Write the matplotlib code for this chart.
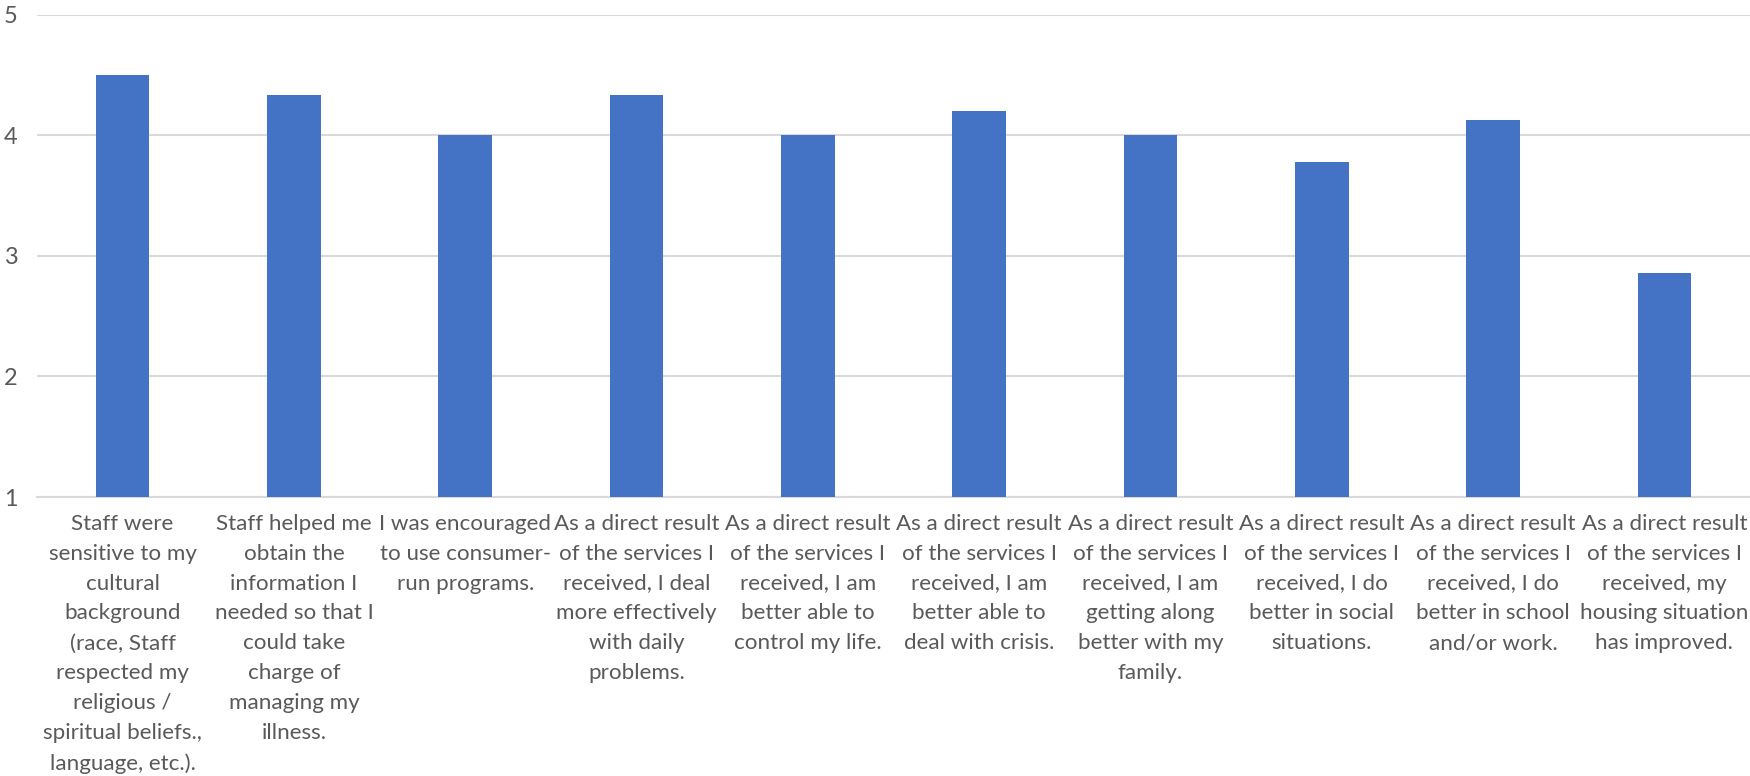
import numpy as np
import matplotlib
matplotlib.use("Agg")
import matplotlib.pyplot as plt

# survey items (wrapped the same way as the original chart)
labels = [
    "Staff were\nsensitive to my\ncultural\nbackground\n(race, Staff\nrespected my\nreligious /\nspiritual beliefs.,\nlanguage, etc.).",
    "Staff helped me\nobtain the\ninformation I\nneeded so that I\ncould take\ncharge of\nmanaging my\nillness.",
    "I was encouraged\nto use consumer-\nrun programs.",
    "As a direct result\nof the services I\nreceived, I deal\nmore effectively\nwith daily\nproblems.",
    "As a direct result\nof the services I\nreceived, I am\nbetter able to\ncontrol my life.",
    "As a direct result\nof the services I\nreceived, I am\nbetter able to\ndeal with crisis.",
    "As a direct result\nof the services I\nreceived, I am\ngetting along\nbetter with my\nfamily.",
    "As a direct result\nof the services I\nreceived, I do\nbetter in social\nsituations.",
    "As a direct result\nof the services I\nreceived, I do\nbetter in school\nand/or work.",
    "As a direct result\nof the services I\nreceived, my\nhousing situation\nhas improved.",
]
scores = [4.5, 4.333, 4.0, 4.333, 4.0, 4.2, 4.0, 3.778, 4.125, 2.857]
yticks = [1, 2, 3, 4, 5]

FONT = ['Lato', 'DejaVu Sans']
plt.rcParams['font.family'] = FONT

fig = plt.figure(figsize=(17.5, 7.76), dpi=100)
r = fig.canvas.get_renderer()

# size the label font so "As a direct result" is ~168 px wide like the original
t = fig.text(0, 0, "As a direct result", fontsize=20)
fs = 20 * 166 / t.get_window_extent(r).width
t.remove()
# line step of ~30 px
t1 = fig.text(0, 0, "A", fontsize=fs, linespacing=1.0)
t2 = fig.text(0, 0, "A\nA", fontsize=fs, linespacing=1.0)
dy = t2.get_window_extent(r).height - t1.get_window_extent(r).height
t1.remove(); t2.remove()
ls = 30.0 / dy * 1.08

ax = fig.add_axes([0.0211, 0.3595, 0.9789, 0.6218])

x = np.arange(len(scores))
ax.bar(x, np.array(scores) - 1, bottom=1, width=0.313, color="#4472C4", zorder=3)

ax.set_ylim(1, 5)
ax.set_xlim(-0.5, len(scores) - 0.5)
ax.set_yticks(yticks)
ax.yaxis.grid(True, color="#d9d9d9", linewidth=1.5, zorder=0)
ax.set_xticks(x)
ax.set_xticklabels(labels, fontsize=fs, color="#595959", linespacing=ls,
                   va="top", ha="center")
ax.tick_params(axis="x", length=0, pad=12)
ax.tick_params(axis="y", length=0, pad=14, labelsize=fs * 1.05, labelcolor="#595959")
for s in ["top", "right", "left"]:
    ax.spines[s].set_visible(False)
ax.spines["bottom"].set_color("#d9d9d9")
ax.spines["bottom"].set_linewidth(1.5)

fig.savefig("out.png", dpi=100)
